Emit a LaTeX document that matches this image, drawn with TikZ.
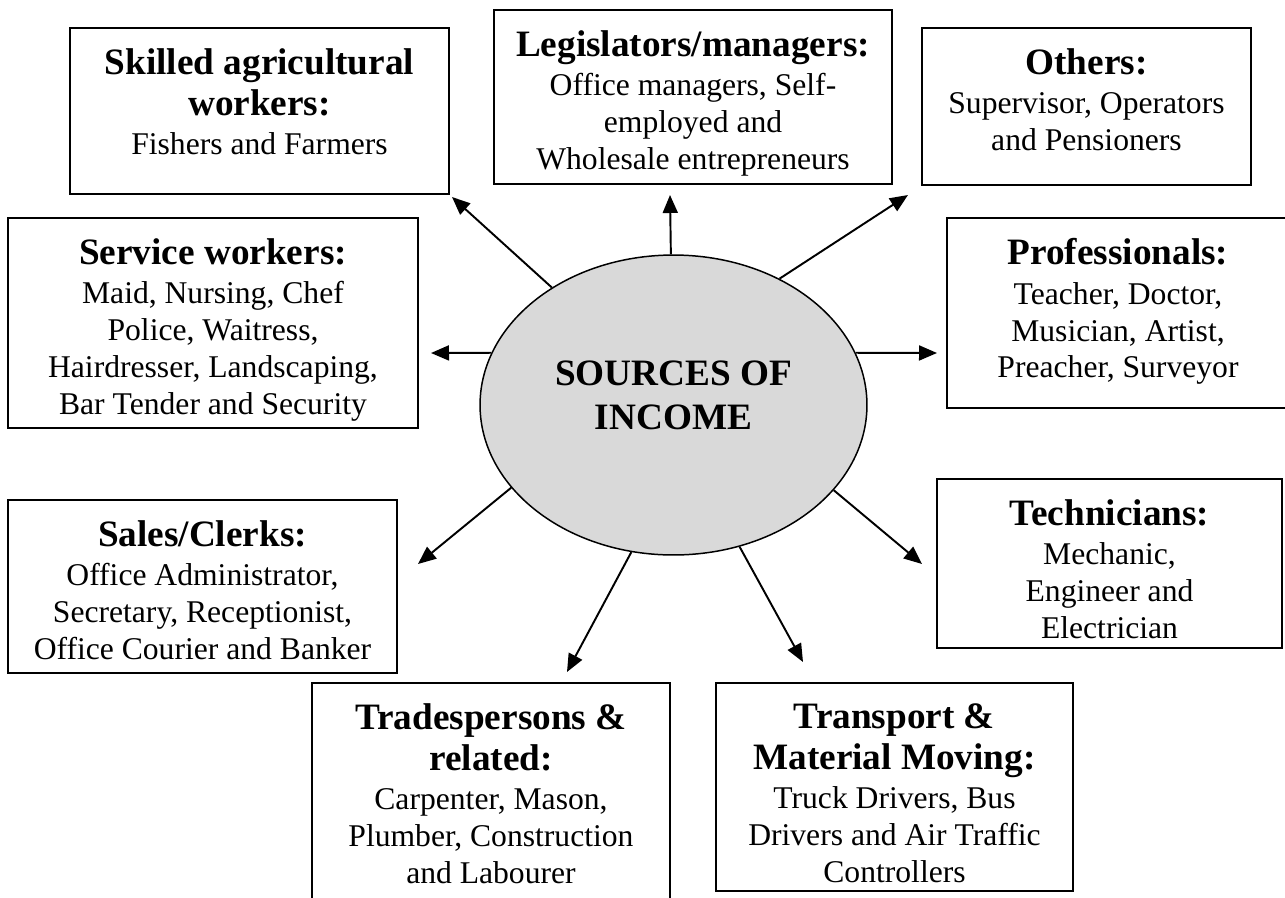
\documentclass[tikz,border=0pt]{standalone}
\usepackage{fontspec}
\setmainfont{Liberation Serif}
\usetikzlibrary{arrows.meta, positioning, calc, shapes.geometric}
\definecolor{hubfill}{HTML}{D9D9D9}
\newcommand{\bodyfont}{\fontsize{18}{21}\selectfont}
\newcommand{\headfont}{\fontsize{21.2}{24}\selectfont\bfseries}
\newcommand{\hd}[1]{{\headfont #1}}
\tikzset{
  frame/.style={rectangle, draw=black, line width=1.1pt, inner sep=0pt},
  entry/.style={anchor=north, align=center, inner sep=0pt, font=\bodyfont},
  hub/.style={ellipse, draw=black, line width=0.85pt, fill=hubfill,
               minimum width=7.74cm, minimum height=6cm, inner sep=0pt},
  hubtext/.style={align=center, inner sep=0pt, font=\headfont},
  spoke/.style={-{Triangle[length=0.36cm, width=0.3cm]}, line width=1.1pt},
}
\def\gap{21}

\begin{document}
\begin{tikzpicture}[x=0.02cm, y=-0.02cm]
\useasboundingbox (0,0) rectangle (1285,897);

% Centre
\node[hub] (src) at (673.5,405) {};
\node[hubtext] (srct) at ($(src.center)+(0,-10)$) {SOURCES OF\\[1pt]INCOME};

% Occupation frames (corner to corner)
\node[frame, minimum width=7.58cm, minimum height=3.32cm] (skilled) at (259.5,111)   {};
\node[frame, minimum width=7.96cm, minimum height=3.48cm] (legis)   at (693,97)      {};
\node[frame, minimum width=6.58cm, minimum height=3.14cm] (others)  at (1086.5,106.5) {};
\node[frame, minimum width=8.20cm, minimum height=4.20cm] (service) at (213,323)     {};
\node[frame, minimum width=6.96cm, minimum height=3.80cm] (prof)    at (1121,313)    {};
\node[frame, minimum width=7.78cm, minimum height=3.46cm] (sales)   at (202.5,586.5) {};
\node[frame, minimum width=6.90cm, minimum height=3.38cm] (tech)    at (1109.5,563.5) {};
\node[frame, minimum width=7.16cm, minimum height=4.60cm] (trades)  at (491,798)     {};
\node[frame, minimum width=7.14cm, minimum height=4.16cm] (trans)   at (894.5,787)   {};

% Texts, hung from the top of each frame
\node[entry] (skilledt) at ($(skilled.north)+(0,\gap)$)
  {\hd{Skilled agricultural}\\[2.3pt]\hd{workers:}\\[1.5pt]Fishers and Farmers};
\node[entry] (legist) at ($(legis.north)+(0,\gap)$)
  {\hd{Legislators/managers:}\\[1.5pt]Office managers, Self-\\employed and\\Wholesale entrepreneurs};
\node[entry] (otherst) at ($(others.north)+(0,\gap)$)
  {\hd{Others:}\\[1.5pt]Supervisor, Operators\\and Pensioners};
\node[entry] (servicet) at ($(service.north)+(0,\gap)$)
  {\hd{Service workers:}\\[1.5pt]Maid, Nursing, Chef\\Police, Waitress,\\Hairdresser, Landscaping,\\Bar Tender and Security};
\node[entry] (proft) at ($(prof.north)+(-3,\gap)$)
  {\hd{Professionals:}\\[1.5pt]Teacher, Doctor,\\Musician, Artist,\\Preacher, Surveyor};
\node[entry] (salest) at ($(sales.north)+(0,\gap)$)
  {\hd{Sales/Clerks:}\\[1.5pt]Office Administrator,\\Secretary, Receptionist,\\Office Courier and Banker};
\node[entry] (techt) at ($(tech.north)+(0,\gap)$)
  {\hd{Technicians:}\\[1.5pt]Mechanic,\\Engineer and\\Electrician};
\node[entry] (tradest) at ($(trades.north)+(0,\gap)$)
  {\hd{Tradespersons \&}\\[2.3pt]\hd{related:}\\[1.5pt]Carpenter, Mason,\\Plumber, Construction\\and Labourer};
\node[entry] (transt) at ($(trans.north)+(0,\gap)$)
  {\hd{Transport \&}\\[2.3pt]\hd{Material Moving:}\\[1.5pt]Truck Drivers, Bus\\Drivers and Air Traffic\\Controllers};

% Arrow tips stop short of the frames
\coordinate (toskilled) at (452,197);
\coordinate (tolegis)   at (670,195);
\coordinate (toothers)  at (908,195);
\coordinate (toservice) at (431,353);
\coordinate (toprof)    at (937,353);
\coordinate (tosales)   at (418,564);
\coordinate (totrades)  at (567,672);
\coordinate (totrans)   at (803,662);
\coordinate (totech)    at (922,564);

% Spokes
\draw[spoke] (src.136) -- (toskilled);
\draw[spoke] (src.91)  -- (tolegis);
\draw[spoke] (src.50.5) -- (toothers);
\draw[spoke] (src.164) -- (toservice);
\draw[spoke] (src.16)  -- (toprof);
\draw[spoke] (src.207) -- (tosales);
\draw[spoke] (src.254) -- (totrades);
\draw[spoke] (src.295.5) -- (totrans);
\draw[spoke] (src.332.5) -- (totech);

\end{tikzpicture}
\end{document}
